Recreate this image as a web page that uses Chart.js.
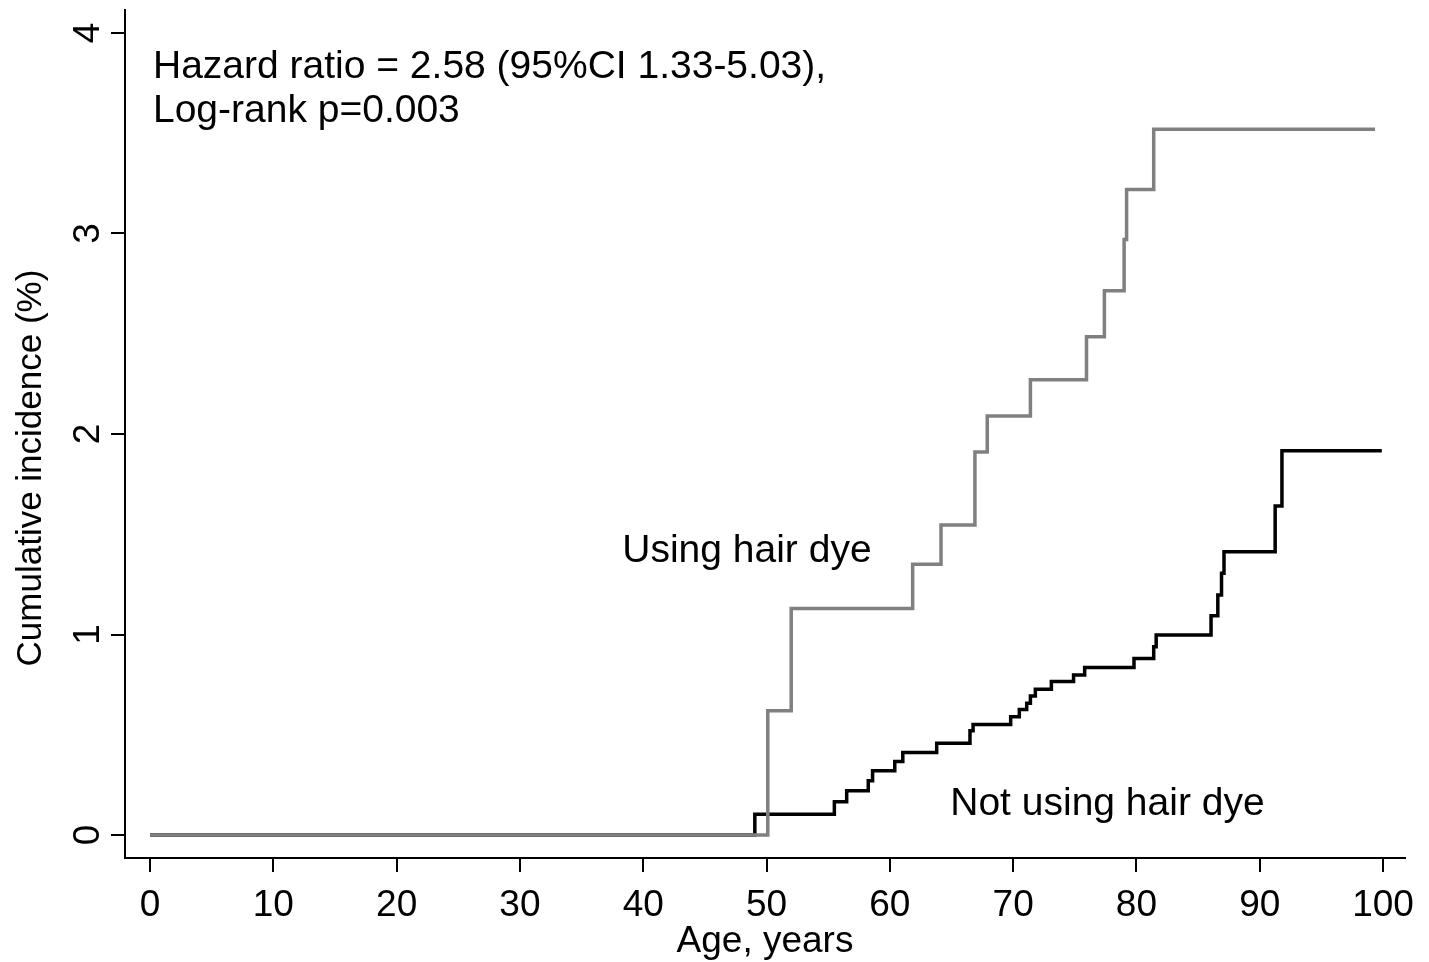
<!DOCTYPE html>
<html>
<head>
<meta charset="utf-8">
<script src="https://cdn.jsdelivr.net/npm/chart.js@4"></script>
<style>
html,body{margin:0;padding:0;background:#fff;}
canvas{display:block;}
</style>
</head>
<body>
<canvas id="c" width="1429" height="962"></canvas>
<script>
// Kaplan-Meier style cumulative incidence (%) step data
const ageUsing = [0, 50.1, 52.0, 61.85, 64.15, 66.9, 67.9, 71.4, 75.95, 77.4, 79.0, 79.2, 81.4, 99.35];
const incUsing = [0, 0.62, 1.13, 1.35, 1.546, 1.91, 2.09, 2.27, 2.485, 2.715, 2.97, 3.22, 3.52, 3.52];

const ageNotUsing = [0, 49.05, 55.5, 56.5, 58.25, 58.6, 60.4, 61.05, 63.8, 66.5, 66.75, 69.8, 70.5, 71.1, 71.4, 71.8, 73.1, 74.9, 75.8, 79.8, 81.4, 81.6, 86.05, 86.6, 86.9, 87.1, 91.25, 91.8, 99.9];
const incNotUsing = [0, 0.103, 0.166, 0.221, 0.271, 0.32, 0.366, 0.412, 0.457, 0.52, 0.551, 0.59, 0.626, 0.657, 0.693, 0.727, 0.765, 0.798, 0.836, 0.88, 0.939, 0.998, 1.094, 1.197, 1.305, 1.413, 1.641, 1.917, 1.917];

const xTickValues = [0, 10, 20, 30, 40, 50, 60, 70, 80, 90, 100];
const yTickValues = [0, 1, 2, 3, 4];

const seriesNames = ['Using hair dye', 'Not using hair dye'];
const statLines = ['Hazard ratio = 2.58 (95%CI 1.33-5.03),', 'Log-rank p=0.003'];
const xTitle = 'Age, years';
const yTitle = 'Cumulative incidence (%)';

// text annotations positioned in data coordinates: [x, y(baseline)]
const annotations = [
  {text: statLines[0], x: 0.24, y: 3.776},
  {text: statLines[1], x: 0.24, y: 3.554},
  {text: seriesNames[0], x: 38.3, y: 1.363},
  {text: seriesNames[1], x: 64.9, y: 0.10}
];

const FONT = "'Liberation Sans', Arial, Helvetica, sans-serif";

const toXY = (xs, ys) => xs.map((v, i) => ({x: v, y: ys[i]}));

const annotPlugin = {
  id: 'annot',
  afterDatasetsDraw(chart) {
    const {ctx, scales: {x, y}} = chart;
    ctx.save();
    ctx.fillStyle = '#000';
    ctx.font = '39px ' + FONT;
    ctx.textAlign = 'left';
    ctx.textBaseline = 'alphabetic';
    annotations.forEach(a => {
      ctx.fillText(a.text, x.getPixelForValue(a.x), y.getPixelForValue(a.y));
    });
    ctx.restore();
  }
};

const gridOpts = {display: true, drawOnChartArea: false, drawTicks: true, tickLength: 14, color: '#000', lineWidth: 2};
const borderOpts = {display: true, color: '#000', width: 2};

new Chart(document.getElementById('c'), {
  type: 'line',
  data: {
    datasets: [
      {
        label: seriesNames[0],
        data: toXY(ageUsing, incUsing),
        borderColor: '#808080',
        borderWidth: 3.5,
        stepped: 'before',
        pointRadius: 0,
        fill: false
      },
      {
        label: seriesNames[1],
        data: toXY(ageNotUsing, incNotUsing),
        borderColor: '#000000',
        borderWidth: 3.5,
        stepped: 'before',
        pointRadius: 0,
        fill: false
      }
    ]
  },
  options: {
    responsive: false,
    animation: false,
    devicePixelRatio: 1,
    layout: {padding: {top: 10, right: 24, left: 0, bottom: 0}},
    plugins: {legend: {display: false}, tooltip: {enabled: false}},
    scales: {
      x: {
        type: 'linear',
        min: -2.03,
        max: 101.78,
        afterBuildTicks: s => { s.ticks = xTickValues.map(v => ({value: v})); },
        afterFit: s => { s.height = 104; s.paddingLeft = 0; s.paddingRight = 0; },
        grid: gridOpts,
        border: borderOpts,
        ticks: {color: '#000', font: {size: 37, family: FONT}, padding: 12, maxRotation: 0, minRotation: 0, autoSkip: false},
        title: {display: true, text: xTitle, color: '#000', font: {size: 37, family: FONT}, padding: {top: 0, bottom: -2}}
      },
      y: {
        type: 'linear',
        min: -0.1147,
        max: 4.1147,
        afterBuildTicks: s => { s.ticks = yTickValues.map(v => ({value: v})); },
        afterFit: s => { s.width = 125; s.paddingTop = 0; s.paddingBottom = 0; },
        grid: gridOpts,
        border: borderOpts,
        ticks: {color: '#000', font: {size: 37, family: FONT}, padding: 12, minRotation: 90, maxRotation: 90, crossAlign: 'center', autoSkip: false},
        title: {display: true, text: yTitle + '       ', color: '#000', font: {size: 35, family: FONT}, padding: {top: 10, bottom: 0}}
      }
    }
  },
  plugins: [annotPlugin]
});
</script>
</body>
</html>
